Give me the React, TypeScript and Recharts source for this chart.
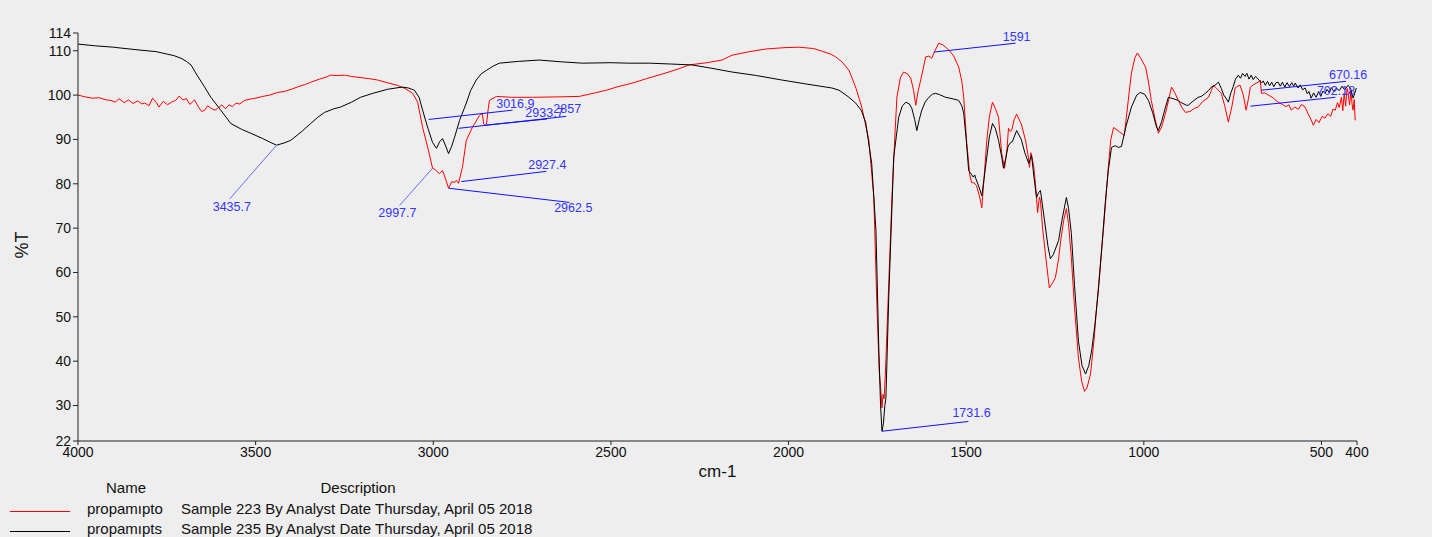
import React from 'react'
import {
  LineChart,
  Line,
  XAxis,
  YAxis,
  ReferenceLine,
  ReferenceDot,
} from 'recharts'

// [wavenumber cm-1, %T]
const redSpectrum: [number, number][] = [
  [4000, 100.0], [3980, 99.6], [3960, 99.3], [3940, 99.4], [3920, 98.9], [3907, 98.8], [3895, 98.4],
  [3885, 99.2], [3870, 98.3], [3858, 98.9], [3845, 98.1], [3832, 98.7], [3820, 98.0], [3812, 98.2],
  [3800, 97.6], [3790, 99.3], [3780, 98.4], [3772, 97.3], [3760, 98.6], [3748, 97.8], [3735, 98.5],
  [3725, 98.8], [3715, 99.8], [3705, 98.9], [3695, 99.2], [3685, 97.9], [3672, 98.9], [3660, 97.2],
  [3652, 96.3], [3643, 96.6], [3635, 97.6], [3625, 97.0], [3615, 96.6], [3607, 97.0], [3595, 97.8],
  [3585, 96.9], [3575, 97.8], [3565, 97.4], [3555, 98.2], [3545, 98.0], [3531, 98.8], [3515, 99.1],
  [3500, 99.3], [3480, 99.7], [3460, 100.0], [3438, 100.6], [3420, 100.8], [3400, 101.3], [3380, 101.9],
  [3360, 102.4], [3345, 102.9], [3320, 103.6], [3300, 104.1], [3289, 104.5], [3270, 104.4], [3250, 104.5],
  [3230, 104.2], [3200, 103.9], [3180, 103.7], [3157, 103.4], [3130, 102.8], [3101, 102.2], [3080, 101.5],
  [3058, 100.4], [3044, 98.4], [3030, 92.7], [3015, 88], [3002, 83.5], [2995, 83.2], [2983, 82.3],
  [2974, 83.0], [2965, 81], [2957, 79], [2948, 80.5], [2940, 80.3], [2935, 80.8], [2929, 80.1],
  [2918, 83.7], [2907, 89.8], [2890, 92.7], [2870, 95.4], [2862, 95.9], [2858, 93.5], [2854, 93.2],
  [2850, 93.5], [2846, 96.5], [2842, 98.8], [2822, 99.7], [2780, 99.5], [2721, 99.5], [2650, 99.6],
  [2589, 99.7], [2550, 100.4], [2513, 101.1], [2480, 101.9], [2440, 102.7], [2400, 103.7], [2345, 105],
  [2310, 105.9], [2280, 106.8], [2230, 107.3], [2187, 107.9], [2159, 109], [2110, 109.8], [2063, 110.4],
  [2010, 110.7], [1971, 110.8], [1930, 110.5], [1906, 109.9], [1880, 109.2], [1867, 108.6], [1850, 107.5],
  [1830, 105.6], [1822, 104], [1810, 101.5], [1794, 97.3], [1774, 89.8], [1760, 76.9], [1752, 54.3],
  [1745, 38], [1740, 33.2], [1737, 29.5], [1734, 32.5], [1731, 31.5], [1727, 38], [1723, 46.8],
  [1715, 64], [1709, 76.9], [1700, 92], [1695, 99.5], [1685, 104], [1676, 105.2], [1665, 104.8],
  [1656, 103.8], [1648, 101], [1642, 97.7], [1635, 101], [1628, 103.4], [1614, 108.6], [1605, 108.8],
  [1597, 108.3], [1588, 110], [1577, 111.7], [1565, 111.3], [1549, 110.2], [1535, 108.8], [1521, 106.3],
  [1512, 103], [1507, 99.5], [1499, 89.8], [1490, 82], [1485, 80.3], [1478, 80.2], [1471, 79.6],
  [1462, 77], [1456, 74.6], [1450, 81], [1442, 89.8], [1435, 95], [1426, 98.4], [1418, 97],
  [1409, 95], [1400, 86.8], [1392, 83.5], [1385, 88], [1381, 92.5], [1376, 91.8], [1372, 92],
  [1365, 94.5], [1358, 95.7], [1345, 93.5], [1333, 89.8], [1325, 86], [1322, 83.7], [1318, 87],
  [1316, 86.4], [1310, 84], [1305, 80], [1299, 73.5], [1294, 77], [1291, 76.2], [1285, 70],
  [1277, 64.2], [1266, 56.5], [1258, 57.5], [1249, 58.8], [1240, 63], [1234, 67.2], [1225, 72],
  [1218, 74.4], [1212, 71], [1204, 63.3], [1195, 52], [1184, 40.7], [1175, 35.5], [1167, 33.2],
  [1160, 34], [1150, 37.1], [1140, 45], [1133, 52], [1122, 62], [1114, 69.4], [1100, 83.7],
  [1093, 90], [1085, 92.7], [1070, 91.8], [1055, 90.9], [1045, 98], [1035, 104.9], [1025, 108.5],
  [1018, 109.5], [1008, 108.2], [995, 106.3], [987, 103], [979, 98.8], [968, 94.5], [959, 91.4],
  [950, 92.8], [939, 95.9], [930, 99], [922, 101.8], [912, 100.4], [903, 98.8], [893, 97.2],
  [883, 96.1], [870, 96.3], [858, 97], [847, 97.3], [835, 98.5], [818, 99.5], [810, 101],
  [804, 102.2], [795, 101.5], [782, 100.4], [772, 97.5], [762, 93.9], [752, 97.5], [743, 101.6],
  [736, 102], [729, 102.2], [720, 100], [712, 96.6], [706, 99], [700, 101.8], [692, 102.3],
  [684, 102.7], [676, 103], [672, 103.4], [669, 100.4], [660, 100.5], [645, 99.8], [635, 99.3],
  [622, 98.4], [610, 97.9], [600, 97.4], [592, 97.8], [585, 96.6], [575, 97.3], [565, 96.8],
  [556, 97.9], [546, 97.3], [538, 95.8], [530, 94.6], [523, 93.2], [515, 94.5], [507, 93.8],
  [498, 95.2], [490, 94.8], [482, 95.8], [474, 95.2], [468, 96.8], [461, 96.6], [455, 98.3],
  [450, 97.2], [444, 99.5], [440, 96.5], [436, 100.5], [432, 97.5], [428, 101.5], [425, 100.6],
  [421, 97.8], [417, 101], [414, 98], [411, 96.6], [408, 99], [405, 94.3],
]

const blackSpectrum: [number, number][] = [
  [4000, 111.5], [3950, 111.1], [3900, 110.8], [3879, 110.6], [3820, 110.1], [3780, 109.8], [3747, 109.2],
  [3730, 108.9], [3710, 108.3], [3695, 107.6], [3682, 106.8], [3665, 104.5], [3645, 102], [3626, 99.5],
  [3600, 96.8], [3570, 93.6], [3540, 92.3], [3514, 91.4], [3480, 90.2], [3460, 89.4], [3441, 88.7],
  [3420, 89.2], [3401, 89.8], [3370, 91.8], [3345, 93.6], [3325, 95], [3306, 96.1], [3280, 96.9],
  [3261, 97.3], [3230, 98.4], [3205, 99.5], [3170, 100.4], [3129, 101.3], [3105, 101.6], [3087, 101.8],
  [3070, 101.6], [3053, 101.1], [3040, 99.5], [3030, 96.6], [3015, 92.5], [3002, 89.3], [2991, 88],
  [2982, 89.5], [2974, 90.2], [2965, 88.5], [2957, 86.8], [2948, 88.5], [2940, 90.5], [2926, 94.3],
  [2907, 98.2], [2895, 101], [2879, 103.4], [2865, 104.8], [2850, 105.6], [2830, 106.6], [2814, 107.2],
  [2760, 107.6], [2702, 107.9], [2640, 107.5], [2581, 107.2], [2500, 107.3], [2450, 107.2], [2392, 107.2],
  [2330, 107], [2272, 106.8], [2220, 106.1], [2159, 105.2], [2090, 104.4], [2019, 103.4], [1950, 102.5],
  [1878, 101.6], [1858, 101.1], [1840, 100.1], [1830, 99.5], [1811, 98.2], [1795, 96.5], [1783, 93.9],
  [1766, 84.6], [1754, 69.4], [1746, 43], [1741, 30], [1737, 24.2], [1733, 26], [1729, 30],
  [1726, 31.6], [1718, 54.3], [1704, 86], [1690, 95], [1680, 97.5], [1670, 98.4], [1660, 98],
  [1653, 97], [1645, 94.5], [1639, 92], [1632, 94.5], [1625, 96.6], [1615, 98.5], [1605, 99.5],
  [1595, 100.2], [1586, 100.4], [1575, 100.1], [1558, 99.5], [1540, 99.2], [1521, 98.8], [1512, 97.5],
  [1507, 95.9], [1500, 90], [1493, 83], [1480, 81.5], [1476, 82], [1473, 81.2], [1465, 79.5],
  [1456, 77.3], [1450, 81], [1442, 86], [1435, 90.5], [1426, 93.6], [1418, 92.5], [1409, 89.8],
  [1400, 86], [1395, 83.5], [1388, 86], [1382, 88.5], [1375, 89.3], [1370, 89.5], [1358, 92],
  [1345, 90], [1335, 87], [1324, 84.6], [1320, 85.5], [1316, 86.4], [1310, 82], [1302, 76.9],
  [1296, 78], [1291, 78.5], [1280, 72], [1270, 66], [1263, 63.1], [1255, 64], [1240, 67.2],
  [1230, 72], [1218, 76.9], [1212, 74.5], [1204, 68.8], [1195, 57], [1184, 44.5], [1174, 39],
  [1164, 37.1], [1155, 39], [1147, 42.3], [1138, 48], [1128, 55.9], [1118, 66], [1108, 76.2],
  [1100, 83], [1091, 88.2], [1080, 88.6], [1072, 88.2], [1063, 88.4], [1050, 93], [1035, 97.3],
  [1020, 100], [1010, 100.6], [998, 100.2], [987, 98.8], [975, 96], [965, 93], [959, 92],
  [950, 94], [940, 97], [931, 99.5], [918, 99.2], [903, 98.8], [897, 98.4], [880, 97.7],
  [875, 97.7], [862, 98.6], [847, 99.5], [838, 99.7], [827, 100.4], [818, 101], [810, 101.8],
  [800, 102.2], [790, 102.9], [782, 101.5], [775, 100], [768, 99.2], [762, 98.4], [755, 100.5],
  [748, 102], [742, 103.6], [734, 104.5], [728, 103.8], [722, 104.9], [715, 104.2], [710, 104.9],
  [704, 103.6], [698, 104.5], [692, 103.5], [686, 104.2], [680, 103.8], [675, 103.3], [669, 102.7],
  [664, 103.2], [658, 102.2], [652, 103.1], [646, 102.1], [640, 102.9], [634, 101.9], [628, 102.8],
  [622, 102.9], [616, 102], [610, 102.9], [603, 101.8], [597, 102.8], [590, 101.9], [584, 102.8],
  [578, 102], [574, 102.7], [566, 101.6], [560, 102.3], [553, 101.2], [546, 101.6], [540, 100.3],
  [535, 100.8], [529, 99.3], [522, 100.5], [515, 99.5], [508, 100.8], [502, 99.7], [496, 100.9],
  [490, 100.4], [484, 101.3], [478, 100.5], [472, 101.7], [465, 100.8], [458, 101.6], [450, 101],
  [442, 102], [435, 101.2], [425, 102.2], [418, 101.5], [411, 99.3], [406, 100.5], [402, 101.6],
]

const xTicks = [4000, 3500, 3000, 2500, 2000, 1500, 1000, 500, 400]
const yTicks = [22, 30, 40, 50, 60, 70, 80, 90, 100, 110, 114]

// peak picks: label, leader line from peak to label, label centre
const peakLabels = ['3435.7', '2997.7', '3016.9', '2933.7', '2857', '2927.4', '2962.5', '1731.6', '1591', '670.16', '702.18']
const peakFrom: [number, number][] = [
  [3441, 88.7], [3002, 83.5], [3013, 94.5], [2929, 92.5], [2856, 93.2], [2921, 80.5],
  [2957, 79], [1737, 24.2], [1591, 109.7], [669, 101.1], [700, 97.5],
]
const peakTo: [number, number][] = [
  [3573, 76.6], [3095, 75.1], [2777, 96.6], [2626, 95.2], [2680, 94.6], [2682, 82.8],
  [2617, 75.8], [1494, 26.4], [1361, 111.7], [431, 103.1], [461, 99.5],
]
const peakText: [number, number][] = [
  [3567, 74.9], [3101, 73.5], [2769, 98.2], [2687, 96.1], [2623, 97], [2679, 84.4],
  [2606, 74.6], [1485, 28.3], [1358, 113.3], [425, 104.7], [459, 101.1],
]

const seriesNames = ['propamıpto', 'propamıpts']
const seriesDesc = [
  'Sample 223 By Analyst Date Thursday, April 05 2018',
  'Sample 235 By Analyst Date Thursday, April 05 2018',
]
const seriesColors = ['#ff0000', '#000000']

const FONT = 'Arial, "Liberation Sans", sans-serif'

export default function App() {
  const red = redSpectrum.map(([wn, t]) => ({ wn, t }))
  const black = blackSpectrum.map(([wn, t]) => ({ wn, t }))

  return (
    <div style={{ position: 'fixed', left: 0, top: 0, width: 1432, height: 537, background: '#eeeeee', fontFamily: FONT, overflow: 'hidden' }}>
      <LineChart width={1432} height={537} margin={{ top: 33, right: 75, left: 33, bottom: 56 }}>
        <XAxis
          dataKey="wn"
          type="number"
          domain={[400, 4000]}
          reversed
          ticks={xTicks}
          interval={0}
          allowDuplicatedCategory={false}
          stroke="#222"
          tickSize={4}
          tick={{ fontSize: 14, fill: '#111', fontFamily: FONT }}
          height={40}
          label={{ value: 'cm-1', position: 'insideBottom', offset: 4, fontSize: 17, fill: '#111', fontFamily: FONT }}
        />
        <YAxis
          type="number"
          domain={[22, 114]}
          ticks={yTicks}
          interval={0}
          stroke="#222"
          tickSize={5}
          width={45}
          tick={{ fontSize: 14, fill: '#111', fontFamily: FONT }}
        />
        <Line data={red} dataKey="t" stroke="#ff0000" strokeWidth={1} dot={false} isAnimationActive={false} />
        <Line data={black} dataKey="t" stroke="#000000" strokeWidth={1} dot={false} isAnimationActive={false} />
        {peakLabels.map((lab, i) => (
          <ReferenceLine
            key={'l' + lab}
            segment={[{ x: peakFrom[i][0], y: peakFrom[i][1] }, { x: peakTo[i][0], y: peakTo[i][1] }]}
            stroke={i < 2 ? '#6a6aff' : '#1010ff'}
            strokeWidth={1}
          />
        ))}
        {peakLabels.map((lab, i) => (
          <ReferenceDot
            key={'d' + lab}
            x={peakText[i][0]}
            y={peakText[i][1]}
            r={1}
            fill="none"
            stroke="none"
            label={{ value: lab, position: 'center', fontSize: 12.5, fill: '#3535ff', fontFamily: FONT }}
          />
        ))}
      </LineChart>

      <div style={{ position: 'absolute', left: 12, top: 245, transform: 'translate(-50%, -50%) rotate(-90deg)', fontSize: 18, color: '#111', marginLeft: 10 }}>
        %T
      </div>

      <div style={{ position: 'absolute', left: 126, top: 479, transform: 'translateX(-50%)', fontSize: 15, color: '#111' }}>Name</div>
      <div style={{ position: 'absolute', left: 358, top: 479, transform: 'translateX(-50%)', fontSize: 15, color: '#111' }}>Description</div>
      {seriesNames.map((n, i) => (
        <React.Fragment key={n}>
          <div style={{ position: 'absolute', left: 10, top: 511 + i * 20, width: 60, height: 1, background: seriesColors[i] }} />
          <div style={{ position: 'absolute', left: 87, top: 500 + i * 20, fontSize: 15, color: '#111' }}>{n}</div>
          <div style={{ position: 'absolute', left: 181, top: 500 + i * 20, fontSize: 15, color: '#111', whiteSpace: 'nowrap' }}>{seriesDesc[i]}</div>
        </React.Fragment>
      ))}
    </div>
  )
}
